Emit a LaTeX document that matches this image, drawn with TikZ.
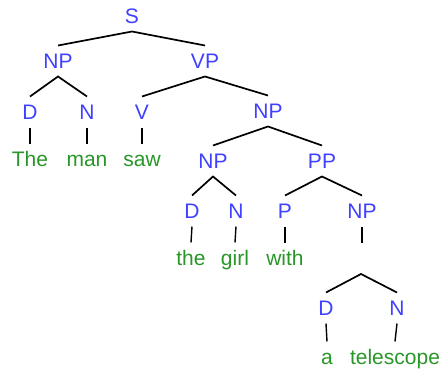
\documentclass[tikz,border=0pt]{standalone}
\usepackage{fontspec}
\setmainfont{Liberation Sans}
\definecolor{catblue}{RGB}{64,64,255}
\definecolor{wordgreen}{RGB}{40,150,40}
\begin{document}
\begin{tikzpicture}[x=1pt,y=-1pt,
  base/.style={font=\fontsize{21}{25}\selectfont, text height=15pt, text depth=0pt,
    inner xsep=2pt, inner ysep=8pt, outer sep=0pt},
  cat/.style={base, text=catblue},
  word/.style={base, text=wordgreen},
  branch/.style={draw=black, line width=1.7pt},
  stem/.style={draw=black, line width=1.4pt}]
\useasboundingbox (0,0) rectangle (448,380);
% category labels
\node[cat] (S)   at (132,16)  {S};
\node[cat] (NP1) at (58,61)   {NP};
\node[cat] (VP)  at (205,61)  {VP};
\node[cat] (D1)  at (30,112)  {D};
\node[cat] (N1)  at (87,112)  {N};
\node[cat] (V)   at (142,112) {V};
\node[cat] (NP2) at (268,111) {NP};
\node[cat] (NP3) at (213,161) {NP};
\node[cat] (PP)  at (322,161) {PP};
\node[cat] (D2)  at (192,211) {D};
\node[cat] (N2)  at (236,211) {N};
\node[cat] (P)   at (285,211) {P};
\node[cat] (NP4) at (362,211) {NP};
\node[cat] (D3)  at (326,308) {D};
\node[cat] (N3)  at (397,308) {N};
% words
\node[word] (w1) at (30,159)  {The};
\node[word] (w2) at (87,159)  {man};
\node[word] (w3) at (142,159) {saw};
\node[word] (w4) at (191,258) {the};
\node[word] (w5) at (235,258) {girl};
\node[word] (w6) at (285,258) {with};
\node[word] (w7) at (327,357) {a};
\node[word] (w8) at (395,357) {telescope};
% branches
\draw[branch] (NP1.north) -- (S.south) -- (VP.north);
\draw[branch] (D1.north) -- (NP1.south) -- (N1.north);
\draw[branch] (V.north) -- (VP.south) -- (NP2.north);
\draw[branch] (NP3.north) -- (NP2.south) -- (PP.north);
\draw[branch] (D2.north) -- (NP3.south) -- (N2.north);
\draw[branch] (P.north) -- (PP.south) -- (NP4.north);
% the lower NP: a short stem, then its fork
\draw[stem] (NP4.south) -- ++(0,16);
\coordinate (hub) at (361,274);
\draw[branch] (D3.north) -- (hub) -- (N3.north);
% stems to the words
\draw[stem] (D1.south) -- (w1.north);
\draw[stem] (N1.south) -- (w2.north);
\draw[stem] (V.south) -- (w3.north);
\draw[stem] (D2.south) -- (w4.north);
\draw[stem] (N2.south) -- (w5.north);
\draw[stem] (P.south) -- (w6.north);
\draw[stem] (D3.south) -- (w7.north);
\draw[stem] (N3.south) -- (w8.north);
\end{tikzpicture}
\end{document}
